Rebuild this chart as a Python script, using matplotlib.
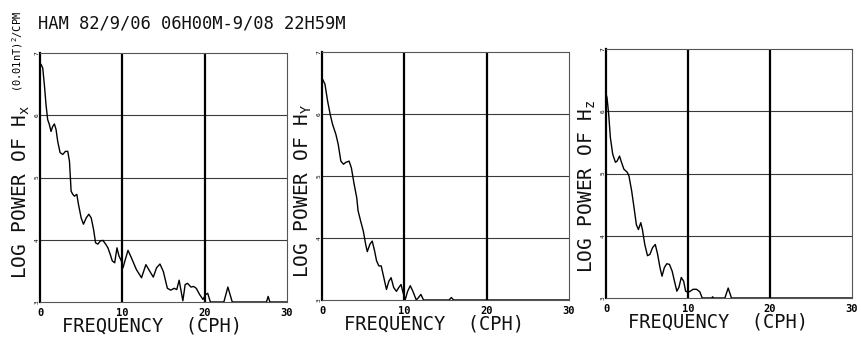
'''
Power spectra of Hx, Hy, Hz at HAM, 82/9/06 - 9/08.
'''
import matplotlib
matplotlib.use('Agg')
import matplotlib.pyplot as plt

plt.rcParams['font.family'] = ['DejaVu Sans Mono']
plt.rcParams['mathtext.fontset'] = 'custom'
plt.rcParams['mathtext.rm'] = 'DejaVu Sans Mono'
plt.rcParams['mathtext.it'] = 'DejaVu Sans Mono'

title = 'HAM 82/9/06 06H00M-9/08 22H59M'
xlabel = 'FREQUENCY  (CPH)'
ylabels = [r'LOG POWER OF H$_\mathrm{x}$', r'LOG POWER OF H$_\mathrm{Y}$', r'LOG POWER OF H$_\mathrm{z}$']
unit_label = r'(0.01nT)$^\mathrm{2}$/CPM'

xticks = [0, 10, 20, 30]
yticks = [3, 4, 5, 6, 7]

# Hx spectrum
freq_x = [0, 0.12, 0.33, 0.53, 0.73, 0.93, 1.14, 1.34, 1.54, 1.75, 1.95, 2.15, 2.44, 2.76, 3.09,
          3.37, 3.58, 3.78, 3.98, 4.19, 4.47, 4.67, 5.0, 5.28, 5.61, 5.93, 6.22, 6.50, 6.75, 7.03,
          7.32, 7.64, 7.97, 8.25, 8.54, 8.78, 9.07, 9.35, 9.59, 9.88, 10.08, 10.29, 10.69, 11.1, 11.71,
          12.33, 12.86, 13.35, 13.76, 14.16, 14.57, 14.98, 15.47, 15.88, 16.29, 16.61, 16.90, 17.35, 17.63, 17.92,
          18.33, 18.65, 18.98, 19.39, 19.80, 20.12, 20.37, 20.69, 22.33, 22.82, 23.35, 27.51, 27.71, 27.92, 30]
power_x = [6.79, 6.82, 6.76, 6.49, 6.17, 5.93, 5.85, 5.74, 5.82, 5.86, 5.77, 5.58, 5.40, 5.37, 5.42,
           5.42, 5.26, 4.78, 4.73, 4.70, 4.73, 4.57, 4.35, 4.25, 4.35, 4.41, 4.35, 4.17, 3.95, 3.93,
           3.98, 3.99, 3.93, 3.87, 3.76, 3.66, 3.63, 3.87, 3.74, 3.66, 3.55, 3.65, 3.83, 3.71, 3.52,
           3.39, 3.60, 3.49, 3.40, 3.55, 3.61, 3.49, 3.22, 3.19, 3.22, 3.20, 3.35, 3.02, 3.28, 3.30,
           3.24, 3.25, 3.22, 3.12, 3.04, 3.12, 3.14, 3.0, 3.0, 3.24, 3.0, 3.0, 3.09, 3.0, 3.0]

# Hy spectrum
freq_y = [0, 0.08, 0.36, 0.68, 1.0, 1.29, 1.69, 1.97, 2.29, 2.61, 2.89, 3.29, 3.57, 3.90, 4.22,
          4.38, 4.70, 5.02, 5.30, 5.50, 5.82, 6.10, 6.39, 6.63, 6.91, 7.19, 7.51, 7.83, 8.11, 8.39,
          8.71, 9.04, 9.32, 9.60, 9.84, 10.12, 10.40, 10.72, 11.04, 11.45, 11.73, 12.01, 12.33, 15.44, 15.7,
          15.99, 30]
power_y = [6.55, 6.56, 6.48, 6.21, 5.99, 5.83, 5.67, 5.51, 5.24, 5.19, 5.22, 5.24, 5.13, 4.87, 4.65,
           4.44, 4.27, 4.11, 3.90, 3.78, 3.90, 3.95, 3.79, 3.63, 3.55, 3.55, 3.36, 3.17, 3.30, 3.36,
           3.20, 3.14, 3.20, 3.25, 3.12, 3.01, 3.14, 3.23, 3.14, 3.0, 3.04, 3.09, 3.0, 3.0, 3.04,
           3.0, 3.0]

# Hz spectrum
freq_z = [0, 0.12, 0.33, 0.53, 0.82, 1.15, 1.36, 1.65, 1.89, 2.18, 2.59, 2.80, 3.13, 3.42, 3.70,
          3.95, 4.24, 4.44, 4.73, 5.06, 5.35, 5.68, 6.01, 6.30, 6.58, 6.83, 7.12, 7.41, 7.74, 8.07,
          8.35, 8.64, 8.89, 9.18, 9.47, 9.71, 10.0, 10.29, 10.62, 11.03, 11.44, 11.73, 12.9, 13.0, 13.1,
          14.5, 14.9, 15.3, 30]
power_z = [6.28, 6.22, 5.95, 5.58, 5.31, 5.18, 5.20, 5.28, 5.18, 5.07, 5.02, 4.96, 4.72, 4.45, 4.18,
           4.10, 4.21, 4.10, 3.86, 3.68, 3.70, 3.81, 3.86, 3.70, 3.49, 3.35, 3.49, 3.55, 3.54, 3.43,
           3.27, 3.11, 3.17, 3.33, 3.27, 3.11, 3.09, 3.11, 3.14, 3.14, 3.10, 3.0, 3.0, 3.02, 3.0,
           3.0, 3.16, 3.0, 3.0]

freqs = [freq_x, freq_y, freq_z]
powers = [power_x, power_y, power_z]

W, H = 861, 337
fig = plt.figure(figsize=(W / 100, H / 100), dpi=100)

# axes boxes in pixels: left, top, right, bottom
boxes = [(40, 53, 287, 302), (322, 52, 569, 300), (606, 49, 852, 298)]
label_pos = [(21, 279), (303, 278), (587, 273)]

for i, (l, t, r, b) in enumerate(boxes):
    ax = fig.add_axes([l / W, 1 - b / H, (r - l) / W, (b - t) / H])
    ax.plot(freqs[i], powers[i], color='k', lw=1.0, zorder=3)
    ax.set_xlim(0, 30)
    ax.set_ylim(3, 7)

    # grid: heavy verticals, light horizontals
    for v in [10, 20]:
        ax.axvline(v, color='k', lw=1.6, zorder=2)
    for h in [4, 5, 6]:
        ax.axhline(h, color='#3a3a3a', lw=0.8, zorder=1)

    for side in ['top', 'right', 'bottom']:
        ax.spines[side].set_linewidth(0.8)
        ax.spines[side].set_color('#555555')
    ax.spines['left'].set_linewidth(1.6)

    ax.set_xticks(xticks)
    ax.set_xticklabels([str(v) for v in xticks], fontsize=7.5, fontweight='bold')
    ax.set_yticks(yticks)
    ax.set_yticklabels([str(v) for v in yticks], fontsize=4.5, rotation=90, va='center')
    ax.tick_params(axis='both', length=0)
    ax.tick_params(axis='x', pad=4)
    ax.tick_params(axis='y', pad=0.5)

    ax.set_xlabel(xlabel, fontsize=13.5, color='#111111')
    ax.xaxis.set_label_coords(0.455, -0.06)

    lx, ly = label_pos[i]
    fig.text(lx / W, 1 - ly / H, ylabels[i], rotation=90, ha='center', va='bottom',
             fontsize=14, color='#111111')

fig.text(18 / W, 1 - 92 / H, unit_label, rotation=90, ha='center', va='bottom', fontsize=7.5)
fig.text(38 / W, 1 - 23 / H, title, ha='left', va='center', fontsize=12.3, color='#111111')

fig.savefig('out.png', dpi=100)
